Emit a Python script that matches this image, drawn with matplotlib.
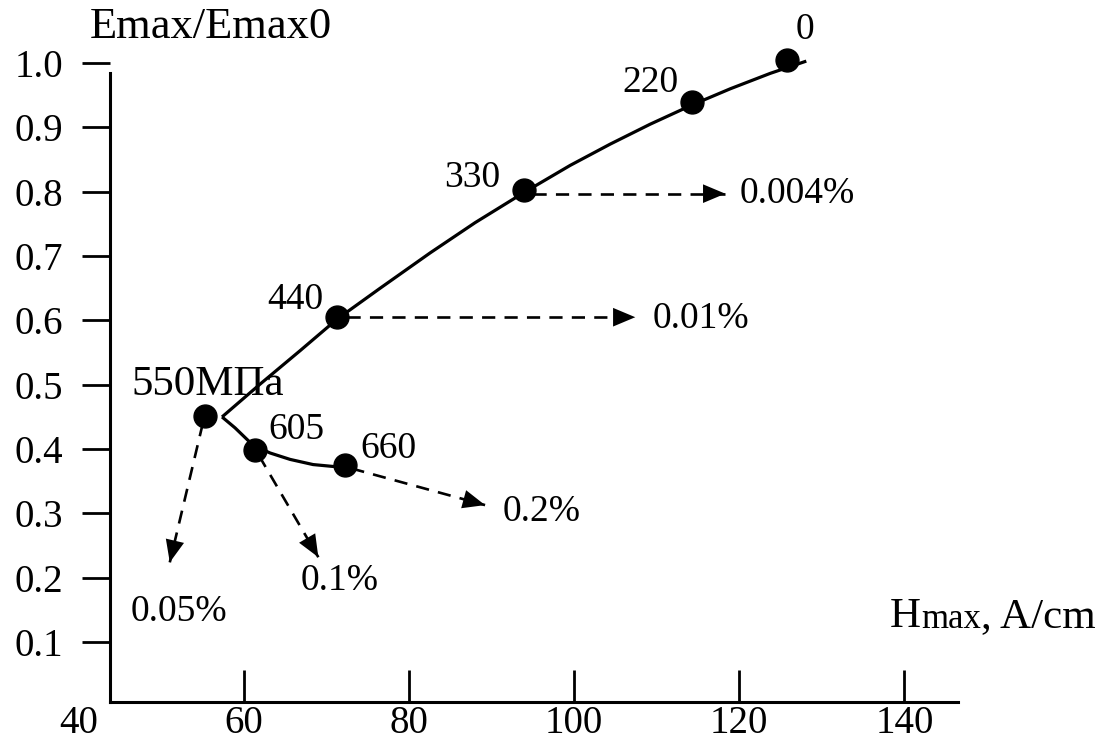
import matplotlib
matplotlib.use("Agg")
import matplotlib.pyplot as plt

plt.rcParams["font.family"] = ["Liberation Serif", "DejaVu Serif"]

# points: stress level (MPa) -> (Hmax, Emax/Emax0)
stress_labels = ["0", "220", "330", "440", "550МПа", "605", "660"]
h_max = [125.8, 114.3, 93.9, 71.3, 55.3, 61.3, 72.2]
e_ratio = [1.005, 0.939, 0.802, 0.606, 0.452, 0.398, 0.375]
label_h = [128.0, 109.2, 87.6, 66.2, 55.6, 66.3, 77.5]
label_e = [1.051, 0.969, 0.821, 0.632, 0.500, 0.430, 0.401]
label_size = [27, 27, 27, 27, 31, 27, 27]

# solid curve
upper_h = [57.33, 61.94, 66.79, 71.27, 76.48, 82.55, 88.00, 93.94,
           99.52, 104.36, 109.21, 114.30, 118.91, 123.76, 128.12]
upper_e = [0.450, 0.501, 0.553, 0.602, 0.650, 0.705, 0.752, 0.799,
           0.841, 0.874, 0.905, 0.935, 0.960, 0.984, 1.003]
lower_h = [57.33, 58.91, 61.09, 63.15, 65.58, 68.36, 72.48]
lower_e = [0.450, 0.433, 0.406, 0.394, 0.384, 0.376, 0.371]

# dashed arrows to residual strain
strain_labels = ["0.004%", "0.01%", "0.05%", "0.1%", "0.2%"]
tail_h = [95.0, 72.5, 55.0, 61.8, 73.0]
tail_e = [0.797, 0.605, 0.440, 0.390, 0.370]
tip_h = [118.3, 107.4, 51.0, 69.0, 89.2]
tip_e = [0.797, 0.605, 0.224, 0.232, 0.313]
strain_h = [120.1, 109.5, 46.2, 66.8, 91.3]
strain_e = [0.797, 0.603, 0.147, 0.196, 0.302]

x_ticks = [40, 60, 80, 100, 120, 140]
y_ticks = [0.1, 0.2, 0.3, 0.4, 0.5, 0.6, 0.7, 0.8, 0.9, 1.0]

W, H = 1110, 742
fig = plt.figure(figsize=(W / 100, H / 100), dpi=100)
ax = fig.add_axes([79 / W, 40 / H, 879 / W, 684 / H])
ax.set_xlim(40, 146.5)
ax.set_ylim(0.007, 1.07)

ax.plot(upper_h, upper_e, color="black", lw=2.3, solid_capstyle="butt",
        solid_joinstyle="round")
ax.plot(lower_h, lower_e, color="black", lw=2.3, solid_capstyle="butt",
        solid_joinstyle="round")
ax.plot(h_max, e_ratio, "o", color="black", ms=16.5, zorder=3)

for s, x, y, fs in zip(stress_labels, label_h, label_e, label_size):
    ax.text(x, y, s, fontsize=fs, ha="center", va="center")

for i in range(len(strain_labels)):
    ax.plot([tail_h[i], tip_h[i]], [tail_e[i], tip_e[i]], color="black",
            lw=1.9, ls=(0, (5, 3.5)))
    # solid arrow head only
    ax.annotate("", xy=(tip_h[i], tip_e[i]), xytext=(tail_h[i], tail_e[i]),
                arrowprops=dict(arrowstyle="-|>,head_length=1.0,head_width=0.42",
                                mutation_scale=16, lw=0, color="black",
                                shrinkA=0, shrinkB=0))
    ax.text(strain_h[i], strain_e[i], strain_labels[i], fontsize=27,
            ha="left", va="center")

for side in ["top", "right"]:
    ax.spines[side].set_visible(False)
ax.spines["left"].set_position(("data", 43.76))
ax.spines["left"].set_bounds(0.007, 0.985)
ax.spines["bottom"].set_bounds(43.76, 146.5)
for side in ["left", "bottom"]:
    ax.spines[side].set_linewidth(2.2)

ax.set_xticks(x_ticks)
ax.set_xticklabels([str(v) for v in x_ticks])
ax.set_yticks(y_ticks)
ax.set_yticklabels([f"{v:.1f}" for v in y_ticks])
ax.tick_params(axis="x", direction="in", length=23, width=2, pad=2, labelsize=28)
ax.tick_params(axis="y", direction="out", length=20, width=2, pad=14, labelsize=28)
ax.xaxis.get_major_ticks()[0].tick1line.set_visible(False)

fig.text(90 / W, 1 - 38 / H, "Emax/Emax0", fontsize=32, ha="left", va="baseline")
t1 = fig.text(890 / W, 1 - 627 / H, "H", fontsize=31, ha="left", va="baseline")
t2 = ax.annotate("max", xy=(1, 0), xycoords=t1, fontsize=25, ha="left", va="bottom")
ax.annotate(", A/cm", xy=(1, 0), xycoords=t2, fontsize=31, ha="left", va="bottom")

fig.savefig("out.png", dpi=100, facecolor="white")
